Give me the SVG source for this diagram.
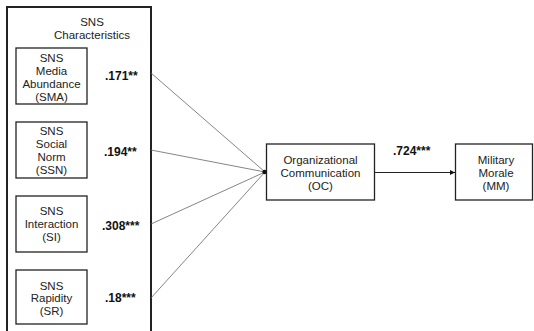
<svg xmlns="http://www.w3.org/2000/svg" width="534" height="331" viewBox="0 0 534 331">
<style>
  .box { fill: #fff; stroke: #222; stroke-width: 1.3; }
  .outer { fill: none; stroke: #222; stroke-width: 2; }
  .t { font-family: "Liberation Sans", Arial, sans-serif; font-size: 11.5px; fill: #222; text-anchor: middle; }
  .c { font-family: "Liberation Sans", Arial, sans-serif; font-size: 12px; font-weight: bold; fill: #111; }
  .ln { stroke: #666; stroke-width: 0.8; fill: none; }
  .ar { stroke: #222; stroke-width: 1.2; fill: none; }
</style>
<defs>
  <marker id="ah" viewBox="0 0 6 6" refX="6" refY="3" markerWidth="5" markerHeight="5" orient="auto" markerUnits="userSpaceOnUse">
    <path d="M0,0 L6,3 L0,6 z" fill="#111"/>
  </marker>
</defs>
<rect width="534" height="331" fill="#fff"/>
<g id="sns-characteristics">
  <rect class="outer" x="7" y="7" width="144" height="330"/>
  <text class="t" x="92" y="25.5">SNS</text>
  <text class="t" x="92" y="38.5">Characteristics</text>
</g>
<g id="sma">
  <rect class="box" x="16" y="48" width="71" height="56"/>
  <text class="t" x="51.5" y="61.5">SNS</text>
  <text class="t" x="51.5" y="74.5">Media</text>
  <text class="t" x="51.5" y="87.5">Abundance</text>
  <text class="t" x="51.5" y="100.5">(SMA)</text>
</g>
<g id="ssn">
  <rect class="box" x="16" y="122" width="71" height="56"/>
  <text class="t" x="51.5" y="134.5">SNS</text>
  <text class="t" x="51.5" y="147.5">Social</text>
  <text class="t" x="51.5" y="160.5">Norm</text>
  <text class="t" x="51.5" y="173.5">(SSN)</text>
</g>
<g id="si">
  <rect class="box" x="16" y="196" width="71" height="56"/>
  <text class="t" x="51.5" y="214.5">SNS</text>
  <text class="t" x="51.5" y="227.5">Interaction</text>
  <text class="t" x="51.5" y="240.5">(SI)</text>
</g>
<g id="sr">
  <rect class="box" x="16" y="270" width="71" height="54"/>
  <text class="t" x="51.5" y="289.5">SNS</text>
  <text class="t" x="51.5" y="302">Rapidity</text>
  <text class="t" x="51.5" y="315">(SR)</text>
</g>
<g id="oc">
  <rect class="box" x="266.5" y="144" width="108" height="56"/>
  <text class="t" x="320.5" y="163.5">Organizational</text>
  <text class="t" x="320.5" y="176.5">Communication</text>
  <text class="t" x="320.5" y="189.5">(OC)</text>
</g>
<g id="mm">
  <rect class="box" x="455.5" y="144" width="77" height="56"/>
  <text class="t" x="496" y="163.5">Military</text>
  <text class="t" x="496" y="176.5">Morale</text>
  <text class="t" x="496" y="189.5">(MM)</text>
</g>
<g id="connectors">
  <line class="ln" x1="151" y1="73" x2="265" y2="172"/>
  <line class="ln" x1="151" y1="150" x2="265" y2="172"/>
  <line class="ln" x1="151" y1="224" x2="265" y2="172"/>
  <line class="ln" x1="151" y1="298" x2="265" y2="172"/>
  <circle cx="264.5" cy="172" r="2.2" fill="#111"/>
  <line class="ar" x1="374.5" y1="172.5" x2="455" y2="172.5" marker-end="url(#ah)"/>
  <text class="c" x="105" y="80">.171**</text>
  <text class="c" x="104" y="156">.194**</text>
  <text class="c" x="102" y="230">.308***</text>
  <text class="c" x="105" y="302">.18***</text>
  <text class="c" x="393" y="155">.724***</text>
</g>
</svg>
